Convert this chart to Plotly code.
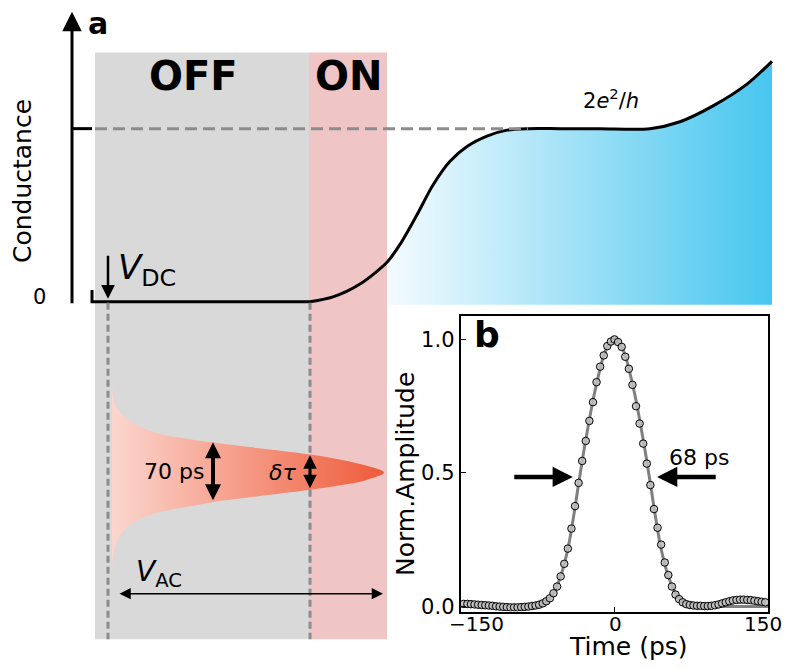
import plotly.graph_objects as go

# ---------------- Panel a : schematic (figure-pixel coordinates) ----------------
regions_x = {"OFF": [95, 309], "ON": [309, 387]}
region_y = [53, 646]

off_x = [92, 92, 310]
off_y = [293, 305, 305]
cond_x = [310, 333, 360, 387, 400, 417, 433, 450, 467, 487, 507, 528, 560, 600, 650, 680, 713, 747, 772]
cond_y = [305, 300, 287, 265, 247, 217, 187, 163, 148, 137.5, 131.5, 130, 130, 130, 130, 123, 107, 85, 62]
fill_floor = 308

pulse_x_top = [112, 113.3, 116.7, 123.3, 133.3, 146.7, 163.3, 190, 213.3, 256.7, 310, 343.3, 366.7, 384]
pulse_y_top = [389, 401.7, 411.7, 420, 427.3, 434, 439.3, 444, 447.3, 452.7, 459.3, 465, 470.7, 477.5]
pulse_x_bot = [366.7, 343.3, 310, 256.7, 213.3, 190, 163.3, 146.7, 133.3, 123.3, 116.7, 113.3, 112]
pulse_y_bot = [485, 490, 495, 501.7, 507.3, 511.7, 516.7, 521.7, 528.3, 536.7, 548.3, 561.7, 573.3]

# ---------------- Panel b : measured pulse ----------------
t_data = [-147, -143.5, -140, -136.5, -133, -129.5, -126, -122.5, -119, -115.5, -112, -108.5, -105,
          -101.5, -98, -94.5, -91, -87.5, -84, -80.5, -77, -73.5, -70, -66.5, -63, -59.5, -56,
          -52.5, -49, -45.5, -42, -38.5, -35, -31.5, -28, -24.5, -21, -17.5, -14, -10.5, -7, -3.5,
          0, 3.5, 7, 10.5, 14, 17.5, 21, 24.5, 28, 31.5, 35, 38.5, 42, 45.5, 49, 52.5, 56, 59.5,
          63, 66.5, 70, 73.5, 77, 80.5, 84, 87.5, 91, 94.5, 98, 101.5, 105, 108.5, 112, 115.5,
          119, 122.5, 126, 129.5, 133, 136.5, 140, 143.5, 147]
amp_data = [0.01, 0.01, 0.009, 0.008, 0.007, 0.006, 0.005, 0.004, 0.003, 0.001,
            0.0, -0.001, -0.002, -0.003, -0.003, -0.003, -0.002, -0.001, 0.0, 0.002,
            0.004, 0.007, 0.012, 0.02, 0.031, 0.05, 0.075, 0.113, 0.16, 0.217,
            0.292, 0.376, 0.463, 0.545, 0.62, 0.695, 0.765, 0.84, 0.898, 0.94,
            0.975, 0.992,
            1.0,
            0.99, 0.972, 0.935, 0.89, 0.83, 0.75, 0.685, 0.61, 0.535, 0.455,
            0.365, 0.295, 0.232, 0.165, 0.118, 0.075, 0.045, 0.028, 0.016, 0.009,
            0.006, 0.004, 0.003, 0.003, 0.002, 0.002, 0.003, 0.005, 0.008, 0.012,
            0.016, 0.02, 0.023, 0.025, 0.026, 0.026, 0.025, 0.024, 0.022, 0.02,
            0.018, 0.016]
t_fit = [-150, -120, -100, -90, -80, -75, -70, -65, -60, -55, -50, -45, -40, -35, -30, -25, -20,
         -15, -10, -5, 0, 5, 10, 15, 20, 25, 30, 35, 40, 45, 50, 55, 60, 65, 70, 75, 80, 90, 100,
         120, 150]
amp_fit = [0, 0, 0, 0.001, 0.003, 0.006, 0.012, 0.024, 0.048, 0.088, 0.145, 0.225, 0.335, 0.46,
           0.58, 0.69, 0.79, 0.875, 0.945, 0.985, 1.005, 0.985, 0.945, 0.875, 0.79, 0.69, 0.58,
           0.46, 0.335, 0.225, 0.145, 0.088, 0.048, 0.024, 0.012, 0.006, 0.003, 0.001, 0, 0, 0]
x_ticks = [-150, 0, 150]
x_tick_text = ["\u2212150", "0", "150"]
y_ticks = [0.0, 0.5, 1.0]
y_tick_text = ["0.0", "0.5", "1.0"]

FONT = "DejaVu Sans"
W, H = 785, 668

fig = go.Figure()

# background regions
shapes = [
    dict(type="rect", xref="x", yref="y", x0=regions_x["OFF"][0], x1=regions_x["OFF"][1],
         y0=region_y[0], y1=region_y[1], fillcolor="#D9D9D9", line_width=0, layer="below"),
    dict(type="rect", xref="x", yref="y", x0=regions_x["ON"][0], x1=regions_x["ON"][1],
         y0=region_y[0], y1=region_y[1], fillcolor="#EFC5C6", line_width=0, layer="below"),
]

# blue gradient fill under the conductance curve (right of the ON window)
fx = [x for x in cond_x if x >= regions_x["ON"][1]]
fy = [y for x, y in zip(cond_x, cond_y) if x >= regions_x["ON"][1]]
fig.add_trace(go.Scatter(x=[fx[0], fx[-1]], y=[fill_floor, fill_floor], mode="lines",
                         line=dict(width=0), hoverinfo="skip", showlegend=False))
fig.add_trace(go.Scatter(x=fx, y=fy, mode="lines", line=dict(width=0, shape="spline", smoothing=0.8),
                         fill="tonexty",
                         fillgradient=dict(type="horizontal", start=fx[0], stop=fx[-1],
                                           colorscale=[[0, "#F4FBFE"], [1, "#48C6EF"]]),
                         hoverinfo="skip", showlegend=False))

# red pulse
px = pulse_x_top + pulse_x_bot
py = pulse_y_top + pulse_y_bot
fig.add_trace(go.Scatter(x=px, y=py, mode="lines", line=dict(width=0, shape="spline"),
                         fill="toself",
                         fillgradient=dict(type="horizontal", start=112, stop=384,
                                           colorscale=[[0, "#FBD6CE"], [1, "#EF5B3A"]]),
                         hoverinfo="skip", showlegend=False))

# conductance curve
fig.add_trace(go.Scatter(x=off_x, y=off_y, mode="lines", line=dict(color="black", width=3),
                         hoverinfo="skip", showlegend=False))
fig.add_trace(go.Scatter(x=cond_x, y=cond_y, mode="lines",
                         line=dict(color="black", width=3, shape="spline", smoothing=0.8),
                         hoverinfo="skip", showlegend=False))

# dashed guide lines
fig.add_trace(go.Scatter(x=[95, 528], y=[130, 130], mode="lines",
                         line=dict(color="#8C8C8C", width=3, dash="12px,6px"),
                         hoverinfo="skip", showlegend=False))
for xv in [108, 310]:
    fig.add_trace(go.Scatter(x=[xv, xv], y=[306, 646], mode="lines",
                             line=dict(color="#8C8C8C", width=3, dash="7px,4px"),
                             hoverinfo="skip", showlegend=False))
# 2e^2/h tick on the conductance axis
fig.add_trace(go.Scatter(x=[72, 92], y=[130, 130], mode="lines", line=dict(color="black", width=3),
                         hoverinfo="skip", showlegend=False))

# ---------------- Panel b traces ----------------
fig.add_trace(go.Scatter(x=t_fit, y=amp_fit, mode="lines", xaxis="x2", yaxis="y2",
                         line=dict(color="#808080", width=3, shape="spline"),
                         hoverinfo="skip", showlegend=False))
fig.add_trace(go.Scatter(x=t_data, y=amp_data, mode="markers", xaxis="x2", yaxis="y2",
                         marker=dict(symbol="circle", size=7.5, color="rgba(190,190,190,0.85)",
                                     line=dict(color="black", width=1)),
                         hoverinfo="skip", showlegend=False))


def txt(x, y, text, size, angle=0, xanchor="center", xref="x", yref="y"):
    return dict(x=x, y=y, xref=xref, yref=yref, text=text, showarrow=False, textangle=angle,
                xanchor=xanchor, yanchor="middle",
                font=dict(family=FONT, size=size, color="black"))


def arrow(x, y, ax, ay, width, head, size, both=False, xref="x", yref="y"):
    d = dict(x=x, y=y, ax=ax, ay=ay, xref=xref, yref=yref, axref=xref, ayref=yref, text="",
             showarrow=True, arrowhead=head, arrowsize=size, arrowwidth=width,
             arrowcolor="black", standoff=0, startstandoff=0)
    if both:
        d.update(arrowside="end+start", startarrowhead=head, startarrowsize=size)
    return d


annotations = [
    txt(98, 24, "<b>a</b>", 30),
    txt(193, 77, "<b>OFF</b>", 40),
    txt(348, 77, "<b>ON</b>", 40),
    txt(22, 183, "Conductance", 25, angle=-90),
    txt(39, 300, "0", 21),
    txt(116, 272, "<i>V</i><sub>DC</sub>", 34, xanchor="left"),
    txt(611, 100, "2<i>e</i><sup>2</sup>/<i>h</i>", 21),
    txt(174, 476, "70 ps", 22),
    txt(282, 477, "<i>δτ</i>", 22),
    txt(134, 580, "<i>V</i><sub>AC</sub>", 28, xanchor="left"),
    txt(487, 338, "<b>b</b>", 36),
    txt(699, 462, "68 ps", 22),
    txt(406, 479, "Norm.Amplitude", 25, angle=-90),
    txt(628, 653, "Time (ps)", 25),
    txt(476.5, 631, x_tick_text[0], 20),
    txt(615.5, 631, x_tick_text[1], 20),
    txt(763, 631, x_tick_text[2], 20),
    # arrows
    arrow(72, 12, 72, 308, 3, 2, 1.3),
    arrow(108, 302, 108, 257, 2.5, 2, 1.1),
    arrow(213, 447, 213, 507, 4, 2, 0.8, both=True),
    arrow(310, 460, 310, 495, 3, 2, 0.9, both=True),
    arrow(383, 600, 118, 600, 1.5, 2, 1.5, both=True),
    arrow(-40.6, 0.485, -99.2, 0.485, 4.5, 2, 0.9, xref="x2", yref="y2"),
    arrow(41.5, 0.485, 100.2, 0.485, 4.5, 2, 0.9, xref="x2", yref="y2"),
]

bx0, bx1 = 460.7, 768.3
by_top, by_bot = 319, 618
y0px, y1px = 613, 343
per = (y0px - y1px) / 1.0
yr = [-(by_bot - y0px) / per, (y0px - by_top) / per]

fig.update_layout(
    width=W, height=H, margin=dict(l=0, r=0, t=0, b=0),
    paper_bgcolor="white", plot_bgcolor="rgba(0,0,0,0)",
    showlegend=False, shapes=shapes, annotations=annotations,
    font=dict(family=FONT, color="black"),
    xaxis=dict(domain=[0, 1], range=[0, W], visible=False, fixedrange=True),
    yaxis=dict(domain=[0, 1], range=[H, 0], visible=False, fixedrange=True),
    xaxis2=dict(domain=[bx0 / W, bx1 / W], range=[-150, 150], anchor="y2",
                showline=True, linecolor="black", linewidth=2, mirror=True,
                ticks="inside", ticklen=5, tickwidth=1, tickcolor="black",
                tickvals=x_ticks, showticklabels=False, showgrid=False, zeroline=False),
    yaxis2=dict(domain=[1 - by_bot / H, 1 - by_top / H], range=yr, anchor="x2",
                showline=True, linecolor="black", linewidth=2, mirror=True,
                ticks="inside", ticklen=5, tickwidth=1, tickcolor="black",
                tickvals=y_ticks, ticktext=y_tick_text,
                tickfont=dict(family=FONT, size=21, color="black"),
                showgrid=False, zeroline=False),
)

fig.write_html("out.html", config={"displayModeBar": False},
               post_script="document.body.style.margin='0';document.body.style.overflow='hidden';")
